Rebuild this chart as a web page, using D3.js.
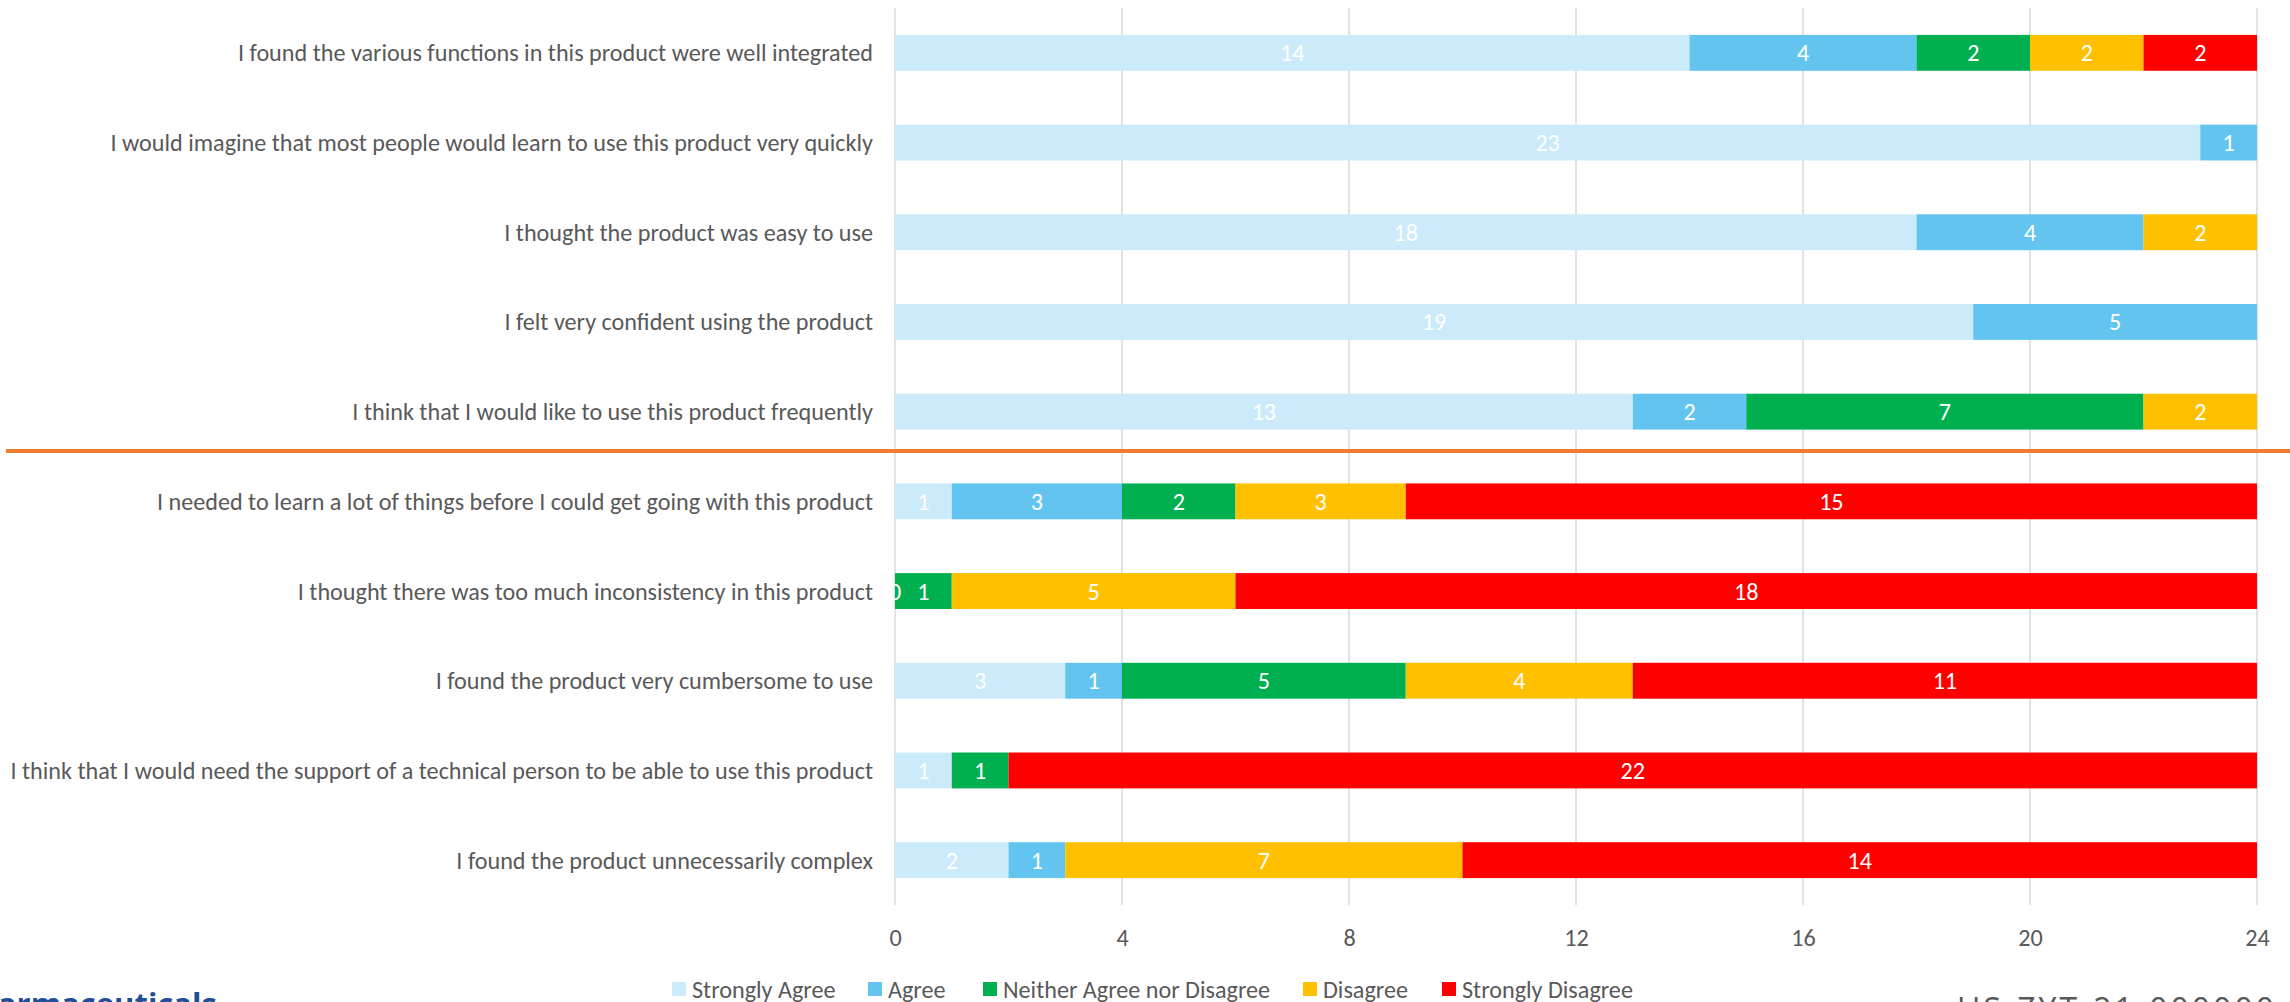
<!DOCTYPE html>
<html>
<head>
<meta charset="utf-8">
<script src="https://cdn.jsdelivr.net/npm/d3@7"></script>
<style>
html,body{margin:0;padding:0;background:#fff;overflow:hidden;}
svg{display:block;}
</style>
</head>
<body>
<svg id="chart" width="2290" height="1002"></svg>
<script>
const questions = [
  "I found the various functions in this product were well integrated",
  "I would imagine that most people would learn to use this product very quickly",
  "I thought the product was easy to use",
  "I felt very confident using the product",
  "I think that I would like to use this product frequently",
  "I needed to learn a lot of things before I could get going with this product",
  "I thought there was too much inconsistency in this product",
  "I found the product very cumbersome to use",
  "I think that I would need the support of a technical person to be able to use this product",
  "I found the product unnecessarily complex"
];
const seriesNames = ["Strongly Agree","Agree","Neither Agree nor Disagree","Disagree","Strongly Disagree"];
const stronglyAgree = [14,23,18,19,13,1,0,3,1,2];
const agree         = [4,1,4,5,2,3,null,1,null,1];
const neither       = [2,null,null,null,7,2,1,5,1,null];
const disagree      = [2,null,2,null,2,3,5,4,null,7];
const stronglyDis   = [2,null,null,null,null,15,18,11,22,14];
const tickValues = [0,4,8,12,16,20,24];
const colors = ["#CBEBFA","#63C5EF","#00B050","#FFC000","#FF0000"];

const series = [stronglyAgree, agree, neither, disagree, stronglyDis];
const FONT = "Carlito, Calibri, Lato, 'Open Sans', sans-serif";
const svg = d3.select("#chart");

const x = d3.scaleLinear().domain([0,24]).range([895,2257]);
const y = d3.scaleBand().domain(questions).range([8,905]).paddingInner(0.6).paddingOuter(0.3);

// gridlines
svg.append("g").selectAll("line").data(tickValues).join("line")
  .attr("x1", d=>x(d)).attr("x2", d=>x(d)).attr("y1", 8).attr("y2", 905)
  .attr("stroke", "#D9D9D9").attr("stroke-width", 1.5);

// stacked data
const table = questions.map((q,i)=>{
  const o = {q};
  seriesNames.forEach((s,j)=>{o[s] = series[j][i];});
  return o;
});
const stack = d3.stack().keys(seriesNames).value((d,k)=> d[k] || 0);
const stacked = stack(table);

svg.append("defs").append("clipPath").attr("id","plotclip")
  .append("rect").attr("x",x(0)).attr("y",0).attr("width",x(24)-x(0)).attr("height",910);

const barsG = svg.append("g");
stacked.forEach((layer,j)=>{
  barsG.append("g").selectAll("rect").data(layer.filter(d=>d.data[seriesNames[j]]!=null && d[1]>d[0])).join("rect")
    .attr("x", d=>x(d[0])).attr("width", d=>x(d[1])-x(d[0]))
    .attr("y", d=>y(d.data.q)).attr("height", y.bandwidth())
    .attr("fill", colors[j]);
});
const labelsG = svg.append("g").attr("clip-path","url(#plotclip)");
stacked.forEach((layer,j)=>{
  labelsG.append("g").selectAll("text").data(layer.filter(d=>d.data[seriesNames[j]]!=null)).join("text")
    .attr("x", d=>x((d[0]+d[1])/2)).attr("y", d=>y(d.data.q)+y.bandwidth()/2)
    .attr("text-anchor","middle").attr("dominant-baseline","central")
    .attr("fill","#fff").attr("font-family",FONT).attr("font-size",20)
    .text(d=>d.data[seriesNames[j]]);
});

// category labels
const catG = svg.append("g").attr("font-family",FONT).attr("font-size",20).attr("fill","#595959");
catG.selectAll("text").data(questions).join("text")
  .attr("x", 873).attr("y", d=>y(d)+y.bandwidth()/2)
  .attr("text-anchor","end").attr("dominant-baseline","central")
  .text(d=>d);

// axis
const axis = d3.axisBottom(x).tickValues(tickValues).tickSize(0).tickPadding(0);
const axG = svg.append("g").attr("transform","translate(0,937)").call(axis);
axG.select(".domain").remove();
axG.selectAll("text").attr("font-family",FONT).attr("font-size",20).attr("fill","#595959")
  .attr("dy",null).attr("dominant-baseline","central").attr("y",0);

// separator line
const c5 = y(questions[4]) + y.bandwidth()/2, c6 = y(questions[5]) + y.bandwidth()/2;
svg.append("line").attr("x1",6).attr("x2",2290).attr("y1",(c5+c6)/2-5.5).attr("y2",(c5+c6)/2-5.5)
  .attr("stroke","#ED7D31").attr("stroke-width",4);

// legend
const legendX = [672, 868, 983, 1303, 1442];
const lg = svg.append("g").attr("font-family",FONT).attr("font-size",20).attr("fill","#595959");
seriesNames.forEach((s,j)=>{
  lg.append("rect").attr("x",legendX[j]).attr("y",982).attr("width",14).attr("height",14).attr("fill",colors[j]);
  lg.append("text").attr("x",legendX[j]+20).attr("y",989).attr("dominant-baseline","central").text(s);
});

// cut-off footer texts (cropped at the picture's bottom edge, as in the reference)
svg.append("text").attr("x",-42).attr("y",1015).attr("font-family","'Open Sans', sans-serif")
  .attr("font-size",31).attr("font-weight","bold").attr("fill","#1F4E99").text("Pharmaceuticals");
svg.append("text").attr("x",1957).attr("y",1021).attr("font-family","'Open Sans', sans-serif")
  .attr("font-size",32).attr("letter-spacing",3).attr("fill","#595959").text("US-ZYT-21-000000");

// fit category label font to reference width
const widest = catG.selectAll("text").nodes().reduce((m,n)=>Math.max(m,n.getComputedTextLength()),0);
const fs = 20*863/widest;
catG.attr("font-size", fs);
lg.attr("font-size", fs);
axG.selectAll("text").attr("font-size", fs);
labelsG.selectAll("text").attr("font-size", fs);
</script>
</body>
</html>
